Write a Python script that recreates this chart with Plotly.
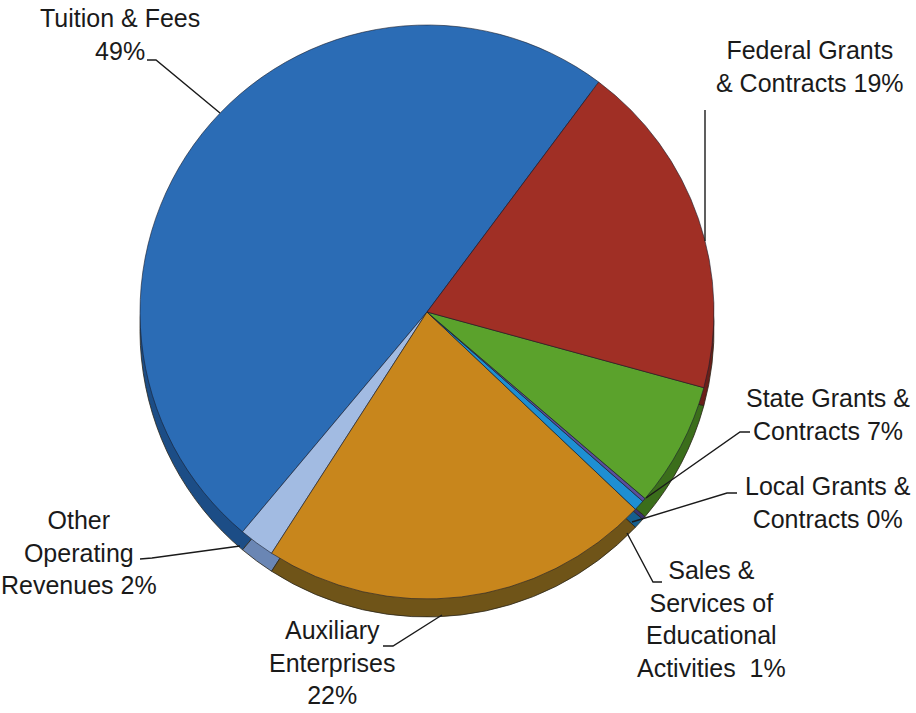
import plotly.graph_objects as go

# ---------------- data ----------------
categories = [
    "Tuition & Fees",
    "Other Operating Revenues",
    "Auxiliary Enterprises",
    "Sales & Services of Educational Activities",
    "Local Grants & Contracts",
    "State Grants & Contracts",
    "Federal Grants & Contracts",
]
shares = [49, 2, 22, 0.6, 0.2, 7, 19]  # percent of operating revenues

label_lines = [
    ["Tuition & Fees", "{p}"],
    ["Other", "Operating", "Revenues {p}"],
    ["Auxiliary", "Enterprises", "{p}"],
    ["Sales &", "Services of", "Educational", "Activities  {p}"],
    ["Local Grants &", "Contracts {p}"],
    ["State Grants &", "Contracts {p}"],
    ["Federal Grants", "& Contracts {p}"],
]

# ---------------- style ----------------
face_colors = ["#2b6cb5", "#a2bbe2", "#c8861c", "#1e8fd2", "#5a4e9c", "#5ba22c", "#a02f25"]
side_colors = ["#1c4d86", "#6a86b4", "#6f5418", "#155f8e", "#3b3270", "#3b6e1b", "#6a1f19"]

W, H = 916, 713
CX, CY, R, DEPTH = 427, 312, 287, 18
ROT = -140  # first slice boundary at ~40 deg clockwise from 12 o'clock


def X(px):
    return px / W


def Y(py):
    return 1 - py / H


def domain(cy):
    return dict(x=[X(CX - R), X(CX + R)], y=[Y(cy + R), Y(cy - R)])


fig = go.Figure()
# extruded side of the 3-D pie (same slices, shifted down)
fig.add_trace(go.Pie(
    labels=categories, values=shares, sort=False, direction="counterclockwise",
    rotation=ROT, domain=domain(CY + DEPTH), textinfo="none", hoverinfo="skip",
    marker=dict(colors=side_colors, line=dict(color="#2a2418", width=0.8)),
    showlegend=False,
))
# top face
fig.add_trace(go.Pie(
    labels=categories, values=shares, sort=False, direction="counterclockwise",
    rotation=ROT, domain=domain(CY), textinfo="none",
    marker=dict(colors=face_colors, line=dict(color="rgba(25,30,45,0.75)", width=0.8)),
    showlegend=False,
))

# label placement (pixel centers) and leader polylines
label_pos = [(120, 35), (79, 552), (332, 662), (711, 619), (828, 503), (828, 414), (810, 66)]
leaders = [
    [(147, 60), (156, 60), (220, 113)],
    [(140, 559), (152, 558), (240, 546)],
    [(383, 646), (393, 646), (442, 615)],
    [(662, 582), (653, 582), (627, 533)],
    [(737, 493), (727, 493), (632, 522)],
    [(750, 432), (740, 432), (646, 498)],
    [(705, 110), (705, 241)],
]

annotations = []
shapes = []
for lines, v, (lx, ly), pts in zip(label_lines, shares, label_pos, leaders):
    pct = f"{round(v)}%"
    text = "<br>".join(s.format(p=pct) for s in lines)
    annotations.append(dict(
        x=X(lx), y=Y(ly), xref="paper", yref="paper", text=text, showarrow=False,
        xanchor="center", yanchor="middle", align="center",
        font=dict(family="Liberation Sans, Arial, sans-serif", size=25, color="#1a1a1a"),
    ))
    path = "M " + " L ".join(f"{X(px):.5f} {Y(py):.5f}" for px, py in pts)
    shapes.append(dict(type="path", xref="paper", yref="paper", path=path,
                       line=dict(color="#1a1a1a", width=1.4)))

fig.update_layout(
    width=W, height=H, autosize=False,
    margin=dict(l=0, r=0, t=0, b=0),
    paper_bgcolor="white", plot_bgcolor="white",
    annotations=annotations, shapes=shapes,
)

fig.write_html("out.html")
